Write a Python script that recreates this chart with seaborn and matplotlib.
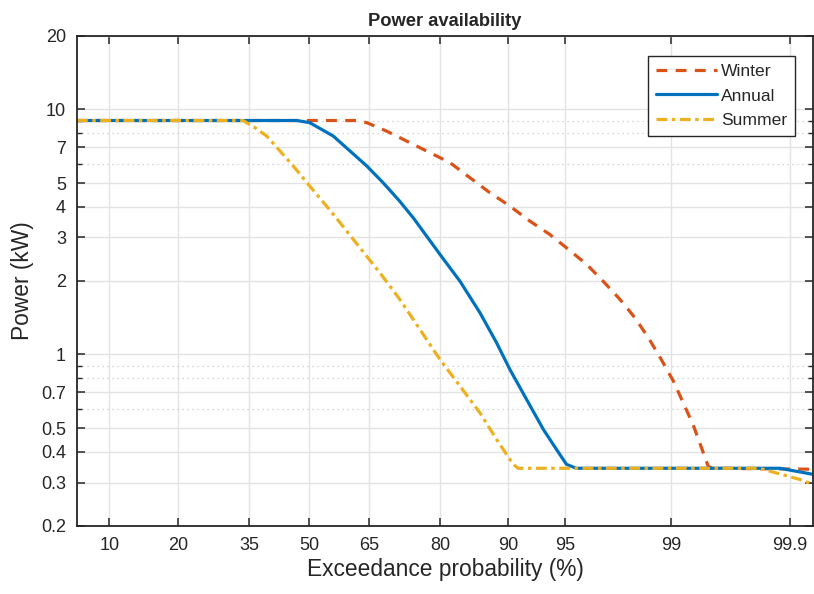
import math
import numpy as np
import matplotlib
matplotlib.use("Agg")
import matplotlib.pyplot as plt
import seaborn as sns

# Courbes de dépassement : probabilité (%) et puissance (kW)
winter_p = [6.8, 62.0, 64.5, 69.1, 77.5, 81.75, 86.4, 87.74, 90.16, 92.2, 93.9,
            95.2, 96.28, 97.06, 97.71, 98.19, 98.54, 98.82, 99.04, 99.19, 99.32,
            99.417, 99.484, 99.52, 99.94]
winter_kw = [9.0, 9.0, 8.82, 8.15, 6.76, 6.06, 4.9, 4.57, 4.03, 3.5, 3.09,
             2.69, 2.33, 1.99, 1.68, 1.41, 1.17, 0.954, 0.778, 0.635, 0.518,
             0.416, 0.35, 0.343, 0.34]

annual_p = [6.8, 46.9, 50.2, 56.2, 64.5, 68.3, 72.0, 74.9, 80.0, 83.4, 86.4,
            88.6, 90.16, 91.9, 93.4, 94.42, 95.1, 95.7, 99.8, 99.876, 99.94]
annual_kw = [9.0, 9.0, 8.82, 7.78, 5.87, 5.02, 4.22, 3.6, 2.56, 1.99, 1.48,
             1.116, 0.869, 0.655, 0.494, 0.409, 0.356, 0.343, 0.343, 0.343, 0.324]

summer_p = [6.8, 33.6, 36.4, 39.3, 46.0, 50.2, 54.5, 57.9, 62.8, 67.6, 72.0,
            76.2, 80.0, 83.4, 86.4, 88.6, 90.53, 91.05, 99.81, 99.919, 99.94]
summer_kw = [9.0, 9.0, 8.42, 7.78, 5.87, 4.86, 4.03, 3.45, 2.73, 2.15, 1.68,
             1.265, 0.954, 0.743, 0.578, 0.45, 0.356, 0.343, 0.343, 0.309, 0.295]

xticks = [10, 20, 35, 50, 65, 80, 90, 95, 99, 99.9]
xtick_labels = ["10", "20", "35", "50", "65", "80", "90", "95", "99", "99.9"]
yticks = [0.2, 0.3, 0.4, 0.5, 0.7, 1, 2, 3, 4, 5, 7, 10, 20]
ytick_labels = ["0.2", "0.3", "0.4", "0.5", "0.7", "1", "2", "3", "4", "5",
                "7", "10", "20"]
yminor = [0.6, 0.8, 0.9, 6, 8, 9]

# --- Échelle de probabilité normale (pas de scipy : erf + interpolation)
z_grid = np.linspace(-7, 7, 40001)
p_grid = 50 * (1 + np.array([math.erf(z / math.sqrt(2)) for z in z_grid]))


def prob_fwd(p):
    return np.interp(p, p_grid, z_grid)


def prob_inv(z):
    return np.interp(z, z_grid, p_grid)


sns.set_style("ticks")
plt.rcParams["font.family"] = ["Liberation Sans", "DejaVu Sans"]

fig = plt.figure(figsize=(8.14, 5.94), dpi=100)
ax = fig.add_axes([0.0946, 0.115, 0.9042, 0.8252])
ax.set_xscale("function", functions=(prob_fwd, prob_inv))
ax.set_yscale("log")

# --- Grille (majeure pleine, mineure pointillée)
ax.set_xticks(xticks)
ax.set_xticklabels(xtick_labels)
ax.set_yticks(yticks)
ax.set_yticklabels(ytick_labels)
ax.set_yticks(yminor, minor=True)
ax.set_yticklabels([], minor=True)
ax.xaxis.set_minor_locator(matplotlib.ticker.NullLocator())
ax.grid(True, which="major", color="#e3e3e3", lw=1.0)
ax.grid(True, which="minor", axis="y", color="#c8c8c8", lw=0.9, ls=(0, (1, 3)))
ax.set_axisbelow(True)

sns.lineplot(x=winter_p, y=winter_kw, ax=ax, color="#D95319", lw=2.3,
             linestyle=(0, (3.4, 2.6)), label="Winter", sort=False, estimator=None)
sns.lineplot(x=annual_p, y=annual_kw, ax=ax, color="#0072BD", lw=2.3,
             linestyle="-", label="Annual", sort=False, estimator=None)
sns.lineplot(x=summer_p, y=summer_kw, ax=ax, color="#EDB120", lw=2.3,
             linestyle=(0, (3.4, 1.4, 1.1, 1.4)), label="Summer", sort=False,
             estimator=None)

ax.set_xlim(6.81, 99.94)
ax.set_ylim(0.2, 20)

for sp in ax.spines.values():
    sp.set_visible(True)
    sp.set_color("#262626")
    sp.set_linewidth(1.3)
ax.tick_params(which="both", direction="in", top=True, right=True,
               colors="#262626", labelsize=13)
ax.tick_params(which="major", length=5.5, width=1.1)
ax.tick_params(which="minor", length=3.5, width=1.0)
ax.tick_params(axis="x", pad=8)
ax.tick_params(axis="y", pad=8)

ax.set_title("Power availability", fontsize=13.2, fontweight="bold", pad=7)
ax.set_xlabel("Exceedance probability (%)", fontsize=16.4, labelpad=3)
ax.set_ylabel("Power (kW)", fontsize=16.4, labelpad=5)

leg = ax.legend(loc="upper right", bbox_to_anchor=(0.9755, 0.958),
                borderaxespad=0, fontsize=12.6, handlelength=3.5,
                handletextpad=0.25, labelspacing=0.55, fancybox=False,
                framealpha=1, edgecolor="#262626", borderpad=0.42)
leg.get_frame().set_linewidth(1.0)

fig.savefig("out.png", dpi=100)
